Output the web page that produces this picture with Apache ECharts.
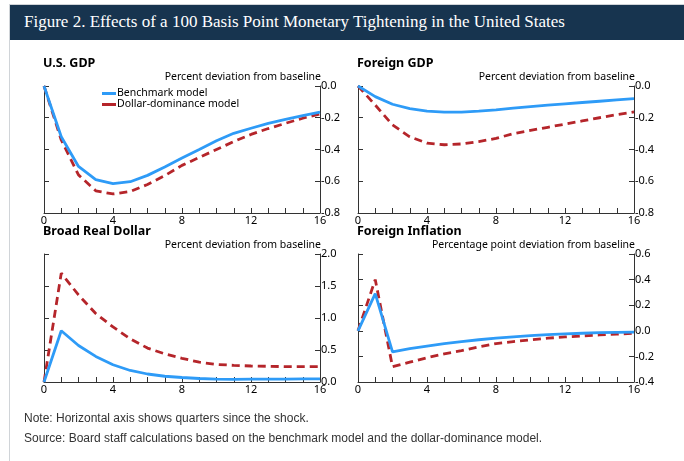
<!DOCTYPE html>
<html>
<head>
<meta charset="utf-8">
<script src="https://cdn.jsdelivr.net/npm/echarts@6/dist/echarts.min.js"></script>
<style>
html,body{margin:0;padding:0;background:#fff;width:684px;height:461px;overflow:hidden;}
#frame{position:absolute;left:9px;top:4px;width:675px;height:457px;border-left:1px solid #d0d4d8;border-top:1px solid #d0d4d8;}
#hdr{position:absolute;left:10px;top:5px;width:674px;height:35px;background:#17344f;}
#hdr span{position:absolute;left:14px;top:7px;color:#fff;font-family:"Liberation Serif","DejaVu Serif",serif;font-size:17px;white-space:nowrap;}
#chart{position:absolute;left:0;top:0;width:684px;height:461px;}
.note{position:absolute;left:24px;font-family:"Liberation Sans",Arial,sans-serif;font-size:12px;color:#333;white-space:nowrap;}
</style>
</head>
<body>
<div id="frame"></div>
<div id="hdr"><span>Figure 2. Effects of a 100 Basis Point Monetary Tightening in the United States</span></div>
<div id="chart"></div>
<div class="note" style="top:411px;">Note: Horizontal axis shows quarters since the shock.</div>
<div class="note" style="top:431px;">Source: Board staff calculations based on the benchmark model and the dollar-dominance model.</div>
<script>
var quarters = [0,1,2,3,4,5,6,7,8,9,10,11,12,13,14,15,16];
var xTicks = [0,4,8,12,16];

var usGdpBench  = [0,-0.32,-0.507,-0.59,-0.615,-0.603,-0.563,-0.51,-0.454,-0.40,-0.345,-0.298,-0.266,-0.235,-0.21,-0.186,-0.165];
var usGdpDollar = [0,-0.34,-0.56,-0.66,-0.68,-0.665,-0.62,-0.565,-0.50,-0.45,-0.40,-0.35,-0.305,-0.268,-0.235,-0.203,-0.176];

var fGdpBench  = [0,-0.067,-0.115,-0.142,-0.158,-0.165,-0.165,-0.158,-0.15,-0.14,-0.13,-0.12,-0.112,-0.104,-0.096,-0.088,-0.08];
var fGdpDollar = [0,-0.12,-0.245,-0.32,-0.36,-0.37,-0.365,-0.35,-0.33,-0.30,-0.28,-0.26,-0.24,-0.22,-0.20,-0.18,-0.163];

var dollarBench  = [0,0.80,0.57,0.40,0.27,0.18,0.125,0.09,0.07,0.055,0.045,0.04,0.045,0.045,0.045,0.048,0.05];
var dollarDollar = [0,1.70,1.36,1.07,0.86,0.675,0.53,0.44,0.37,0.31,0.275,0.26,0.25,0.245,0.24,0.24,0.24];

var fInflBench  = [0,0.29,-0.165,-0.14,-0.12,-0.10,-0.085,-0.07,-0.058,-0.047,-0.038,-0.03,-0.024,-0.019,-0.015,-0.012,-0.01];
var fInflDollar = [0,0.40,-0.28,-0.245,-0.21,-0.18,-0.155,-0.125,-0.10,-0.085,-0.07,-0.058,-0.048,-0.04,-0.032,-0.026,-0.02];

var panelTitles = ['U.S. GDP','Foreign GDP','Broad Real Dollar','Foreign Inflation'];
var unitLabels = ['Percent deviation from baseline','Percent deviation from baseline','Percent deviation from baseline','Percentage point deviation from baseline'];
var yRanges = [[-0.8,0,0.2],[-0.8,0,0.2],[0,2,0.5],[-0.4,0.6,0.2]];
var seriesNames = ['Benchmark model','Dollar-dominance model'];

var FONT = 'Noto Sans';
var BLUE = '#2e9bf7';
var RED = '#b5252a';
var AX = '#333';

var grids = [
  {left:44, top:86, width:276, height:127},
  {left:358, top:86, width:276, height:127},
  {left:44, top:254, width:276, height:128},
  {left:358, top:254, width:276, height:128}
];
var panelData = [[usGdpBench,usGdpDollar],[fGdpBench,fGdpDollar],[dollarBench,dollarDollar],[fInflBench,fInflDollar]];

var xAxes=[], yAxes=[], series=[], graphics=[];
grids.forEach(function(g,i){
  xAxes.push({
    type:'value', gridIndex:i, min:0, max:16, interval:4,
    axisLine:{show:true, onZero:false, lineStyle:{color:AX,width:1}},
    axisTick:{show:true, inside:true, length:5, lineStyle:{color:AX}},
    minorTick:{show:true, splitNumber:4, length:5, lineStyle:{color:AX}},
    axisLabel:{show:true, margin:2, fontFamily:FONT, fontSize:11, color:'#000'},
    splitLine:{show:false}
  });
  var r = yRanges[i];
  yAxes.push({
    type:'value', gridIndex:i, position:'right', min:r[0], max:r[1], interval:r[2],
    axisLine:{show:true, onZero:false, lineStyle:{color:AX,width:1}},
    axisTick:{show:true, inside:true, length:5, lineStyle:{color:AX}},
    axisLabel:{show:true, margin:1, fontFamily:FONT, fontSize:11, color:'#000',
      formatter:function(v){return v.toFixed(1);}},
    splitLine:{show:false}
  });
  yAxes.push({
    type:'value', gridIndex:i, position:'left', min:r[0], max:r[1], interval:r[2],
    axisLine:{show:true, onZero:false, lineStyle:{color:AX,width:1}},
    axisTick:{show:true, inside:true, length:5, lineStyle:{color:AX}},
    axisLabel:{show:false},
    splitLine:{show:false}
  });
  var d = panelData[i];
  series.push({
    name:seriesNames[0], type:'line', xAxisIndex:i, yAxisIndex:2*i, symbol:'none', z:3,
    data:quarters.map(function(q,k){return [q,d[0][k]];}),
    lineStyle:{color:BLUE, width:2.8}, itemStyle:{color:BLUE}, silent:true
  });
  series.push({
    name:seriesNames[1], type:'line', xAxisIndex:i, yAxisIndex:2*i, symbol:'none', z:2,
    data:quarters.map(function(q,k){return [q,d[1][k]];}),
    lineStyle:{color:RED, width:2.8, type:[8,5]}, itemStyle:{color:RED}, silent:true
  });
  graphics.push({
    type:'text', left:g.left-1, top:g.top-29,
    style:{text:panelTitles[i], font:'bold 12.5px "'+FONT+'"', fill:'#000'}
  });
  graphics.push({
    type:'text', x:g.left+g.width+1, y:g.top-9,
    style:{text:unitLabels[i], font:'10.5px "'+FONT+'"', fill:'#000', textAlign:'right', textVerticalAlign:'middle'}
  });
});

var chart = echarts.init(document.getElementById('chart'), null, {renderer:'canvas'});
chart.setOption({
  animation:false,
  backgroundColor:'transparent',
  grid:grids,
  xAxis:xAxes,
  yAxis:yAxes,
  series:series,
  legend:{
    show:true, orient:'vertical', left:97, top:83, itemWidth:14, itemHeight:3, itemGap:0,
    textStyle:{fontFamily:FONT, fontSize:10.5, color:'#000', padding:[0,0,0,-4]},
    data:[
      {name:seriesNames[0], icon:'rect', itemStyle:{color:BLUE}},
      {name:seriesNames[1], icon:'rect', itemStyle:{color:RED}}
    ],
    selectedMode:false
  },
  graphic:graphics
});
</script>
</body>
</html>
